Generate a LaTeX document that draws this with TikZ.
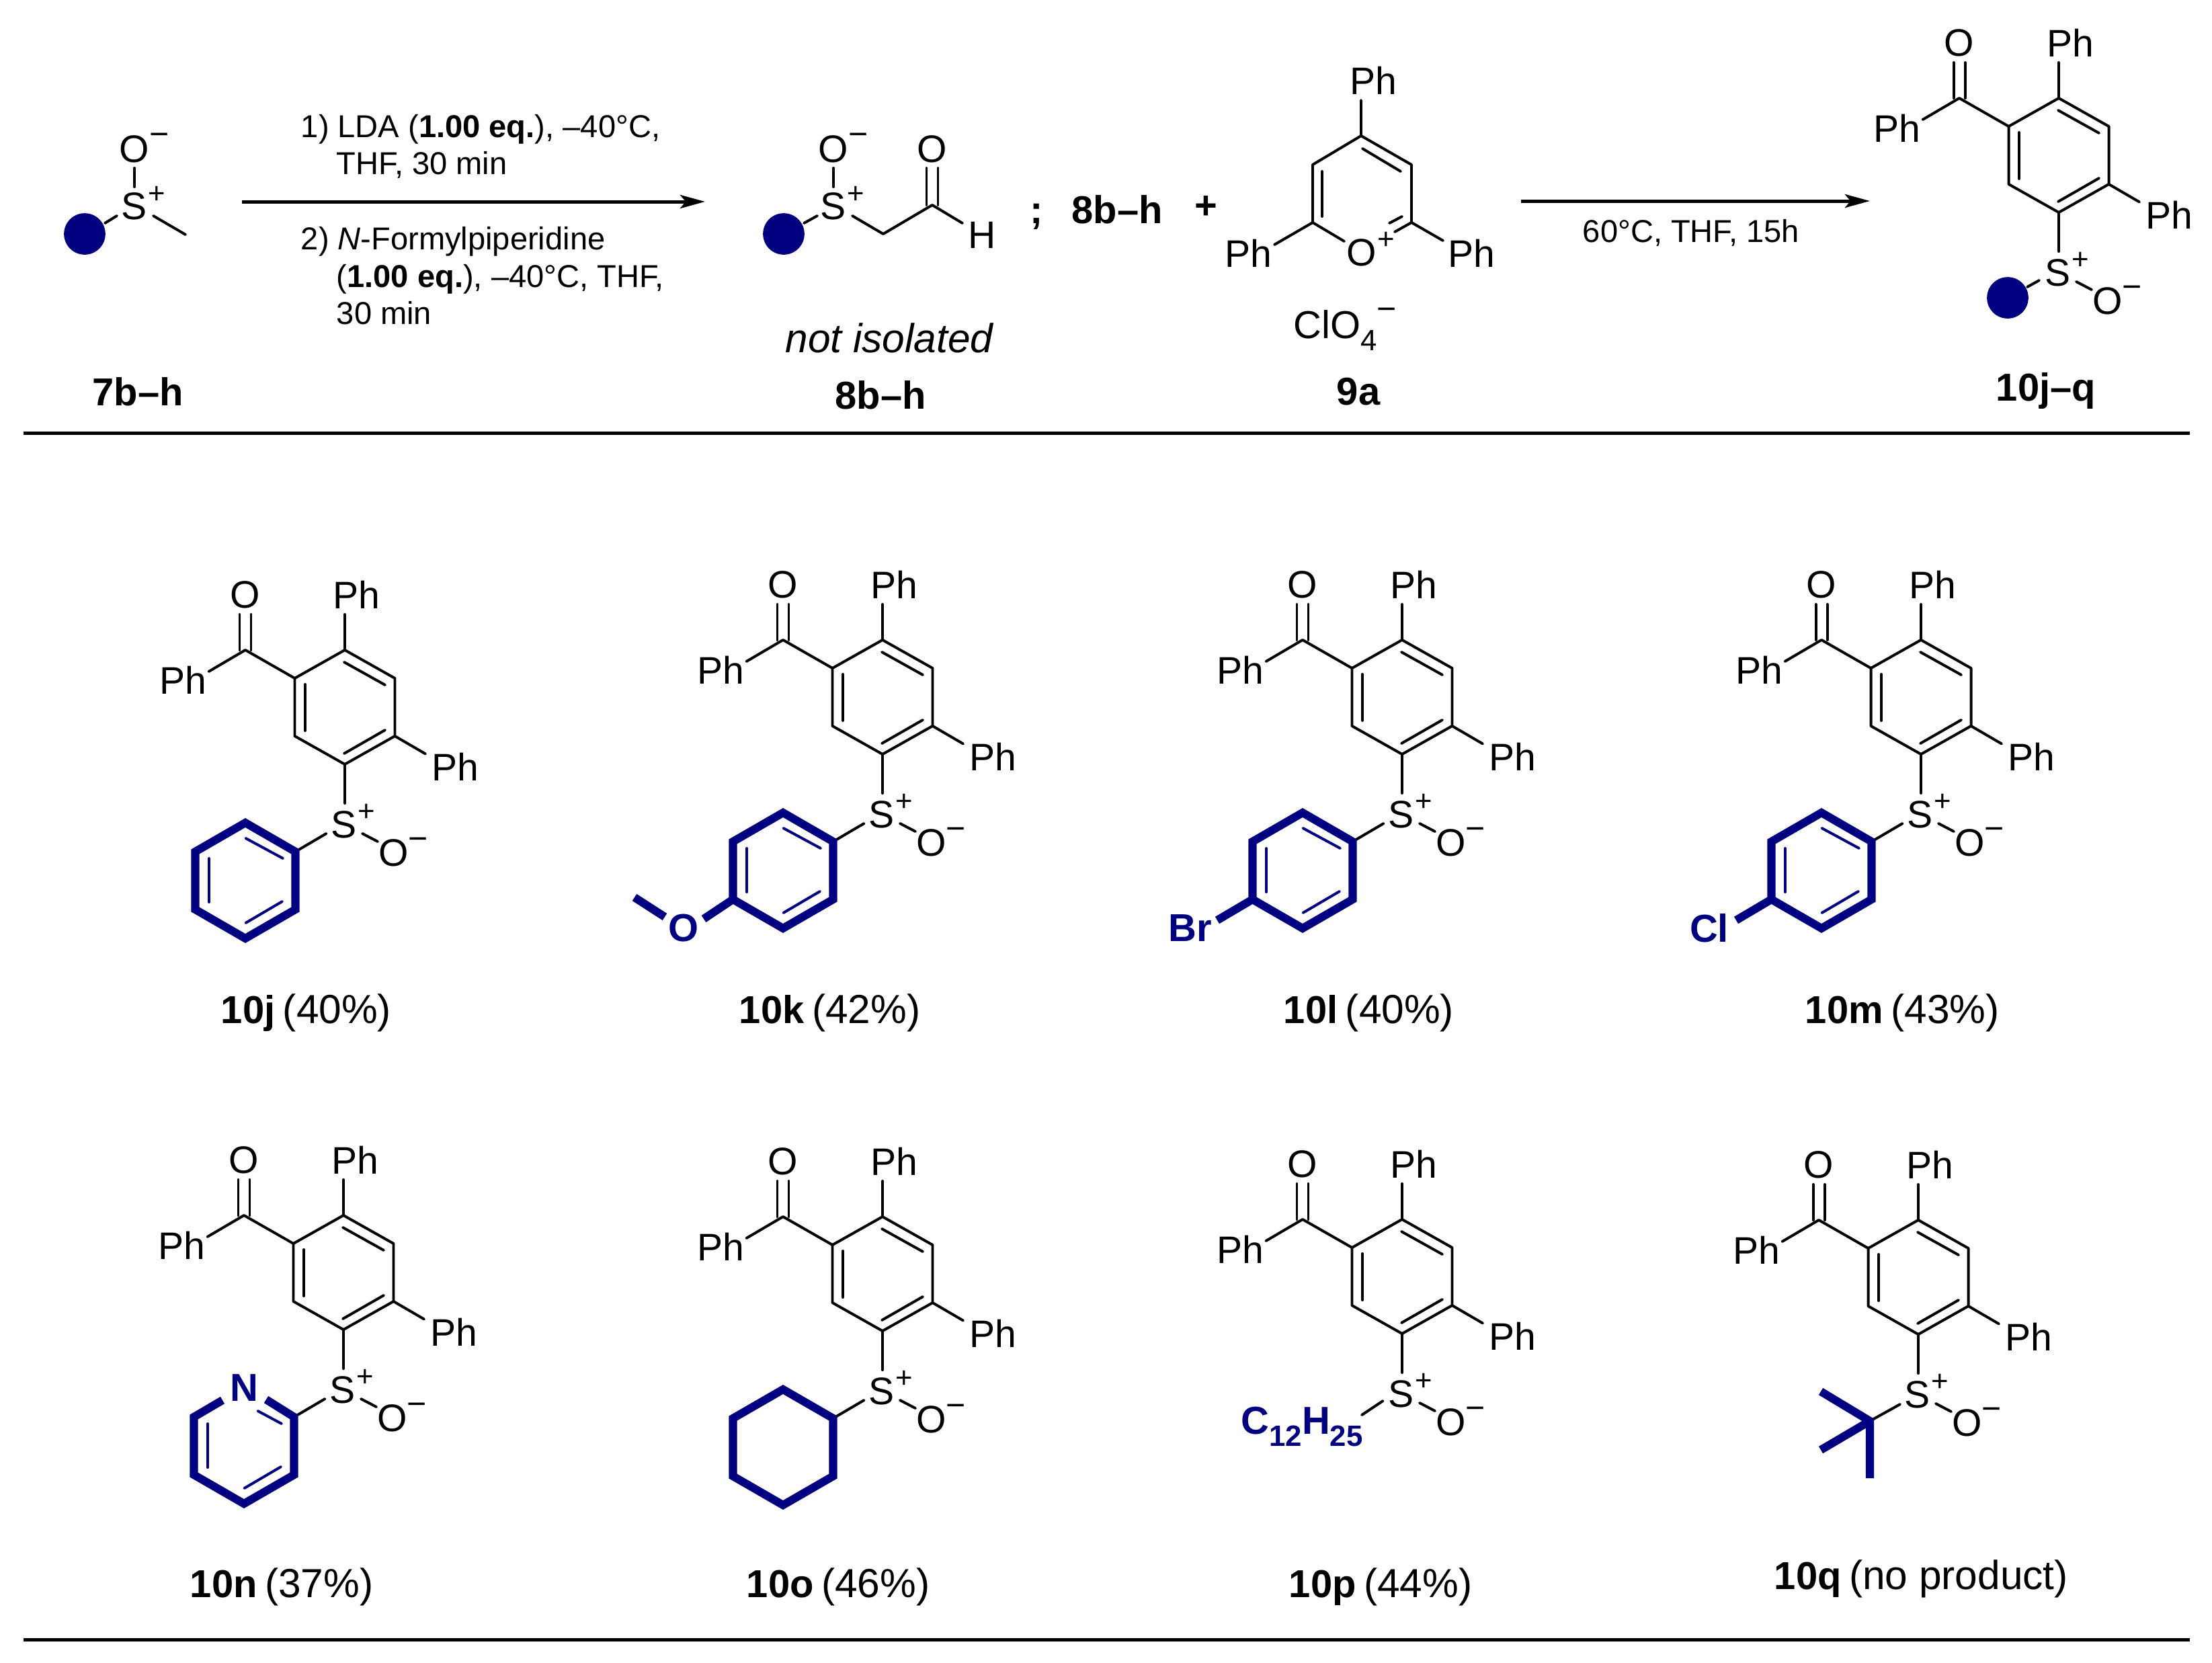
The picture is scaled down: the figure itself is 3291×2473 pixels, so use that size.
\documentclass[tikz,border=0pt]{standalone}
\usepackage{fontspec}
\setmainfont{Liberation Sans}
\usetikzlibrary{arrows.meta}
\definecolor{rnavy}{RGB}{0,0,128}
\newcommand{\fmain}{\fontsize{13.7}{16}\selectfont}
\newcommand{\flab}{\fontsize{13.9}{16}\selectfont}
\newcommand{\fyld}{\fontsize{14.5}{17}\selectfont}
\newcommand{\fsmall}{\fontsize{11.3}{14}\selectfont}
\newcommand{\fchg}{\fontsize{10.5}{12}\selectfont}
\newcommand{\fminus}{\fontsize{12}{12}\selectfont}
\newcommand{\ylab}[2]{{\flab\bfseries #1} {\fyld #2}}
\tikzset{
  bond/.style={line width=0.95pt,line cap=round,line join=round},
  thickbond/.style={line width=2.9pt,rnavy,line cap=butt,line join=miter},
  thinnavy/.style={line width=0.95pt,rnavy,line cap=round},
  atom/.style={inner sep=0pt,font=\fmain},
  navyatom/.style={inner sep=0pt,font=\flab\bfseries,text=rnavy},
  charge/.style={inner sep=0pt,font=\fchg},
  minuscharge/.style={inner sep=0pt,font=\fminus},
  cmpd/.style={inner sep=0pt,anchor=base,font=\flab\bfseries},
  yieldlab/.style={inner sep=0pt,anchor=base west},
  reagent/.style={inner sep=0pt,anchor=base west,font=\fsmall},
  rule/.style={line width=1.2pt},
  rxn/.style={line width=1.2pt,-{Stealth[length=8.9pt,width=4.8pt,inset=2pt]}},
  blob/.style={circle,fill=rnavy,inner sep=0pt,minimum size=14.8pt},
}
% product core: #1 prefix, #2 position of the ring carbon that bears S
\newcommand{\productcore}[2]{%
  \begin{scope}[shift={#2}]
    \coordinate (#1c1) at (0,0);
    \coordinate (#1c2) at (74.5,-42);
    \coordinate (#1c3) at (74.5,-128);
    \coordinate (#1c4) at (0,-170);
    \coordinate (#1c5) at (-74.5,-128);
    \coordinate (#1c6) at (-74.5,-42);
    \coordinate (#1co) at (-148,-170);
    \coordinate (#1coa) at (-156.5,-170);
    \coordinate (#1coa2) at (-156.5,-223);
    \coordinate (#1cob) at (-139.5,-170);
    \coordinate (#1cob2) at (-139.5,-223);
    \coordinate (#1pla) at (-202.5,-138);
    \coordinate (#1pta) at (0,-223);
    \coordinate (#1pra) at (120,-15.5);
    \coordinate (#1sa) at (0,58);
    \coordinate (#1oa) at (26,103);
    \coordinate (#1ob) at (49,115);
    \node[atom] (#1oc) at (-148,-252) {O};
    \node[atom] (#1pl) at (-241,-125) {Ph};
    \node[atom] (#1pt) at (17,-252) {Ph};
    \node[atom] (#1pr) at (164,4) {Ph};
    \node[atom] (#1s) at (-1,90) {S};
    \node[charge] (#1sp) at (32,72) {+};
    \node[atom] (#1om) at (73,132) {O};
    \node[minuscharge] (#1omm) at (109,118) {−};
    \draw[bond] (#1c1) -- (#1c2) -- (#1c3) -- (#1c4) -- (#1c5) -- (#1c6) -- cycle;
    \draw[bond] (-59,-119) -- (-59,-50);
    \draw[bond] (-1,-152) -- (60,-118);
    \draw[bond] (-1,-16) -- (60,-51);
    \draw[bond] (#1c5) -- (#1co) -- (#1pla);
    \draw[bond] (#1coa) -- (#1coa2);
    \draw[bond] (#1cob) -- (#1cob2);
    \draw[bond] (#1c4) -- (#1pta);
    \draw[bond] (#1c2) -- (#1pra);
    \draw[bond] (#1c1) -- (#1sa);
    \draw[bond] (#1oa) -- (#1ob);
  \end{scope}}
% aromatic inner lines of the navy ring
\newcommand{\innerlines}{%
    \draw[thinnavy] (-202,140) -- (-202,205);
    \draw[thinnavy] (-147.5,236) -- (-93,204);}
% navy ring corner coordinates
\newcommand{\ringcoords}[1]{%
    \coordinate (#1r1) at (-148,87);
    \coordinate (#1r2) at (-73.5,130);
    \coordinate (#1r3) at (-73.5,216);
    \coordinate (#1r4) at (-148,259);
    \coordinate (#1r5) at (-222.5,216);
    \coordinate (#1r6) at (-222.5,130);
    \coordinate (#1rs) at (-27.5,103);}
\begin{document}
\begin{tikzpicture}[x=0.24pt,y=-0.24pt]
\useasboundingbox (0,0) rectangle (3291,2473);
% ---- starting sulfoxide 7
\node[blob] (b7) at (126,348) {};
\node[atom] (s7) at (200,307) {S};
\node[charge] (s7p) at (233,290) {+};
\node[atom] (o7) at (200,222) {O};
\node[minuscharge] (o7m) at (237,207) {−};
\coordinate (s7a) at (200,278); \coordinate (o7a) at (200,250);
\coordinate (b7a) at (156,332); \coordinate (s7b) at (174,321);
\coordinate (s7c) at (228,321); \coordinate (me7) at (276,349);
\draw[bond] (s7a) -- (o7a);
\draw[bond] (b7a) -- (s7b);
\draw[bond] (s7c) -- (me7);
\node[cmpd] (l7) at (205,603) {7b–h};
% ---- arrow 1 and conditions
\coordinate (a1s) at (360,300); \coordinate (a1e) at (1049,300);
\draw[rxn] (a1s) -- (a1e);
\node[reagent] (t1) at (447,204) {1) LDA (\textbf{1.00 eq.}), –40°C,};
\node[reagent] (t2) at (500,259) {THF, 30 min};
\node[reagent] (t3) at (447,371) {2) \textit{N}-Formylpiperidine};
\node[reagent] (t4) at (500,427) {(\textbf{1.00 eq.}), –40°C, THF,};
\node[reagent] (t5) at (500,482) {30 min};
% ---- aldehyde 8
\node[blob] (b8) at (1166,348) {};
\node[atom] (s8) at (1240,307) {S};
\node[charge] (s8p) at (1273,290) {+};
\node[atom] (o8) at (1240,222) {O};
\node[minuscharge] (o8m) at (1277,207) {−};
\node[atom] (o8b) at (1387,222) {O};
\node[atom] (h8) at (1461,350) {H};
\coordinate (s8a) at (1240,278); \coordinate (o8a) at (1240,250);
\coordinate (b8a) at (1196,332); \coordinate (s8b) at (1216,321);
\coordinate (s8c) at (1268,321); \coordinate (c8a) at (1314,348);
\coordinate (c8b) at (1387,305); \coordinate (h8a) at (1432,332);
\coordinate (c8l) at (1378.5,305); \coordinate (c8lt) at (1378.5,250);
\coordinate (c8r) at (1395.5,305); \coordinate (c8rt) at (1395.5,250);
\draw[bond] (s8a) -- (o8a);
\draw[bond] (b8a) -- (s8b);
\draw[bond] (s8c) -- (c8a) -- (c8b) -- (h8a);
\draw[bond] (c8l) -- (c8lt);
\draw[bond] (c8r) -- (c8rt);
\node[inner sep=0pt,font=\fyld\itshape] (ni) at (1323,503) {not isolated};
\node[cmpd] (l8) at (1310,608) {8b–h};
\node[cmpd] (semi) at (1542,332) {;};
\node[cmpd] (l8b) at (1662,332) {8b–h};
\node[cmpd] (plus) at (1794,325) {+};
% ---- pyrylium 9a
\coordinate (p1) at (2025,202);
\coordinate (p2) at (2100,245);
\coordinate (p3) at (2100,331);
\coordinate (p5) at (1953,331);
\coordinate (p6) at (1953,245);
\node[atom] (pph) at (2043,120) {Ph};
\node[atom] (po) at (2026,376) {O};
\node[charge] (pop) at (2062,358) {+};
\node[atom] (ppl) at (1857,377) {Ph};
\node[atom] (ppr) at (2189,377) {Ph};
\coordinate (ppa) at (2025,149);
\coordinate (poa) at (2000,359);
\coordinate (poc) at (2075,345);
\coordinate (pla) at (1896,364);
\coordinate (pra) at (2147,358);
\draw[bond] (ppa) -- (p1) -- (p2) -- (p3) -- (pra);
\draw[bond] (p1) -- (p6) -- (p5) -- (poa);
\draw[bond] (p5) -- (pla);
\draw[bond] (p3) -- (poc);
\draw[bond] (1967,255) -- (1967,322);
\draw[bond] (2027,221) -- (2084,255);
\draw[bond] (2067,332) -- (2086,322);
\node[inner sep=0pt,anchor=base west,font=\flab] (cl) at (1924,503) {ClO\raisebox{-0.32em}{\fchg 4}};
\node[minuscharge] (clm) at (2063,467) {−};
\node[cmpd] (l9) at (2021,602) {9a};
% ---- arrow 2
\coordinate (a2s) at (2263,299); \coordinate (a2e) at (2782,299);
\draw[rxn] (a2s) -- (a2e);
\node[inner sep=0pt,font=\fsmall] (t6) at (2516,346) {60°C, THF, 15h};
% ---- general product
\productcore{g}{(3063,316)}
\node[blob] (bg) at (2987,443) {};
\coordinate (gba) at (3016,427); \coordinate (gbb) at (3034,417);
\draw[bond] (gba) -- (gbb);
\node[cmpd] (l10) at (3044,596) {10j–q};
% ---- rules
\coordinate (r1a) at (35,644); \coordinate (r1b) at (3258,644);
\coordinate (r2a) at (35,2439); \coordinate (r2b) at (3258,2439);
\draw[rule] (r1a) -- (r1b);
\draw[rule] (r2a) -- (r2b);
% ---- 10j
\productcore{j}{(513,1137)}
\begin{scope}[shift={(513,1137)}]
  \ringcoords{j}
  \draw[bond] (jrs) -- (jr2);
  \draw[thickbond] (jr1) -- (jr2) -- (jr3) -- (jr4) -- (jr5) -- (jr6) -- cycle;
  \innerlines
  \draw[thinnavy] (-147.5,110) -- (-92,140);
\end{scope}
\node[yieldlab] (lj) at (328,1522) {\ylab{10j}{(40\%)}};
% ---- 10k
\productcore{k}{(1313,1122)}
\begin{scope}[shift={(1313,1122)}]
  \ringcoords{k}
  \node[navyatom] (ko) at (-296,259) {O};
  \coordinate (koa) at (-266,245); \coordinate (kma) at (-324,242); \coordinate (kmb) at (-369,213);
  \draw[bond] (krs) -- (kr2);
  \draw[thickbond] (kr1) -- (kr2) -- (kr3) -- (kr4) -- (kr5) -- (kr6) -- cycle;
  \innerlines
  \draw[thinnavy] (-147.5,110) -- (-92,140);
  \draw[thickbond] (kr5) -- (koa);
  \draw[thickbond] (kma) -- (kmb);
\end{scope}
\node[yieldlab] (lk) at (1099,1522) {\ylab{10k}{(42\%)}};
% ---- 10l
\productcore{l}{(2086,1122)}
\begin{scope}[shift={(2086,1122)}]
  \ringcoords{l}
  \node[navyatom] (lbr) at (-315,259) {Br};
  \coordinate (lba) at (-275,247);
  \draw[bond] (lrs) -- (lr2);
  \draw[thickbond] (lr1) -- (lr2) -- (lr3) -- (lr4) -- (lr5) -- (lr6) -- cycle;
  \innerlines
  \draw[thinnavy] (-147.5,110) -- (-92,140);
  \draw[thickbond] (lr5) -- (lba);
\end{scope}
\node[yieldlab] (ll) at (1909,1522) {\ylab{10l}{(40\%)}};
% ---- 10m
\productcore{m}{(2858,1122)}
\begin{scope}[shift={(2858,1122)}]
  \ringcoords{m}
  \node[navyatom] (mcl) at (-315,259) {Cl};
  \coordinate (mca) at (-275,247);
  \draw[bond] (mrs) -- (mr2);
  \draw[thickbond] (mr1) -- (mr2) -- (mr3) -- (mr4) -- (mr5) -- (mr6) -- cycle;
  \innerlines
  \draw[thinnavy] (-147.5,110) -- (-92,140);
  \draw[thickbond] (mr5) -- (mca);
\end{scope}
\node[yieldlab] (lm) at (2685,1522) {\ylab{10m}{(43\%)}};
% ---- 10n
\productcore{n}{(511,1978)}
\begin{scope}[shift={(511,1978)}]
  \ringcoords{n}
  \node[navyatom] (nn) at (-148,87) {N};
  \coordinate (nla) at (-180,105); \coordinate (nra) at (-115,104);
  \draw[bond] (nrs) -- (nr2);
  \draw[thickbond] (nra) -- (nr2) -- (nr3) -- (nr4) -- (nr5) -- (nr6) -- (nla);
  \innerlines
  \draw[thinnavy] (-127.5,121) -- (-92,140);
\end{scope}
\node[yieldlab] (ln) at (282,2376) {\ylab{10n}{(37\%)}};
% ---- 10o
\productcore{o}{(1313,1980)}
\begin{scope}[shift={(1313,1980)}]
  \ringcoords{o}
  \draw[bond] (ors) -- (or2);
  \draw[thickbond] (or1) -- (or2) -- (or3) -- (or4) -- (or5) -- (or6) -- cycle;
\end{scope}
\node[yieldlab] (lo) at (1110,2376) {\ylab{10o}{(46\%)}};
% ---- 10p
\productcore{p}{(2086,1984)}
\begin{scope}[shift={(2086,1984)}]
  \coordinate (pra1) at (-28.5,100); \coordinate (pra2) at (-60,121);
  \draw[bond] (pra1) -- (pra2);
  \node[navyatom,anchor=base] (pc) at (-149,149) {C\raisebox{-0.32em}{\fchg\bfseries 12}H\raisebox{-0.32em}{\fchg\bfseries 25}};
\end{scope}
\node[yieldlab] (lp) at (1917,2376) {\ylab{10p}{(44\%)}};
% ---- 10q
\productcore{q}{(2854,1985)}
\begin{scope}[shift={(2854,1985)}]
  \coordinate (qc) at (-72,129); \coordinate (qs) at (-27,104);
  \coordinate (qa) at (-145,85); \coordinate (qb) at (-145,172); \coordinate (qd) at (-72,214);
  \draw[bond] (qs) -- (qc);
  \draw[thickbond] (qa) -- (qc) -- (qd);
  \draw[thickbond] (qb) -- (qc);
\end{scope}
\node[yieldlab] (lq) at (2639,2364) {\ylab{10q}{(no product)}};
\end{tikzpicture}
\end{document}
